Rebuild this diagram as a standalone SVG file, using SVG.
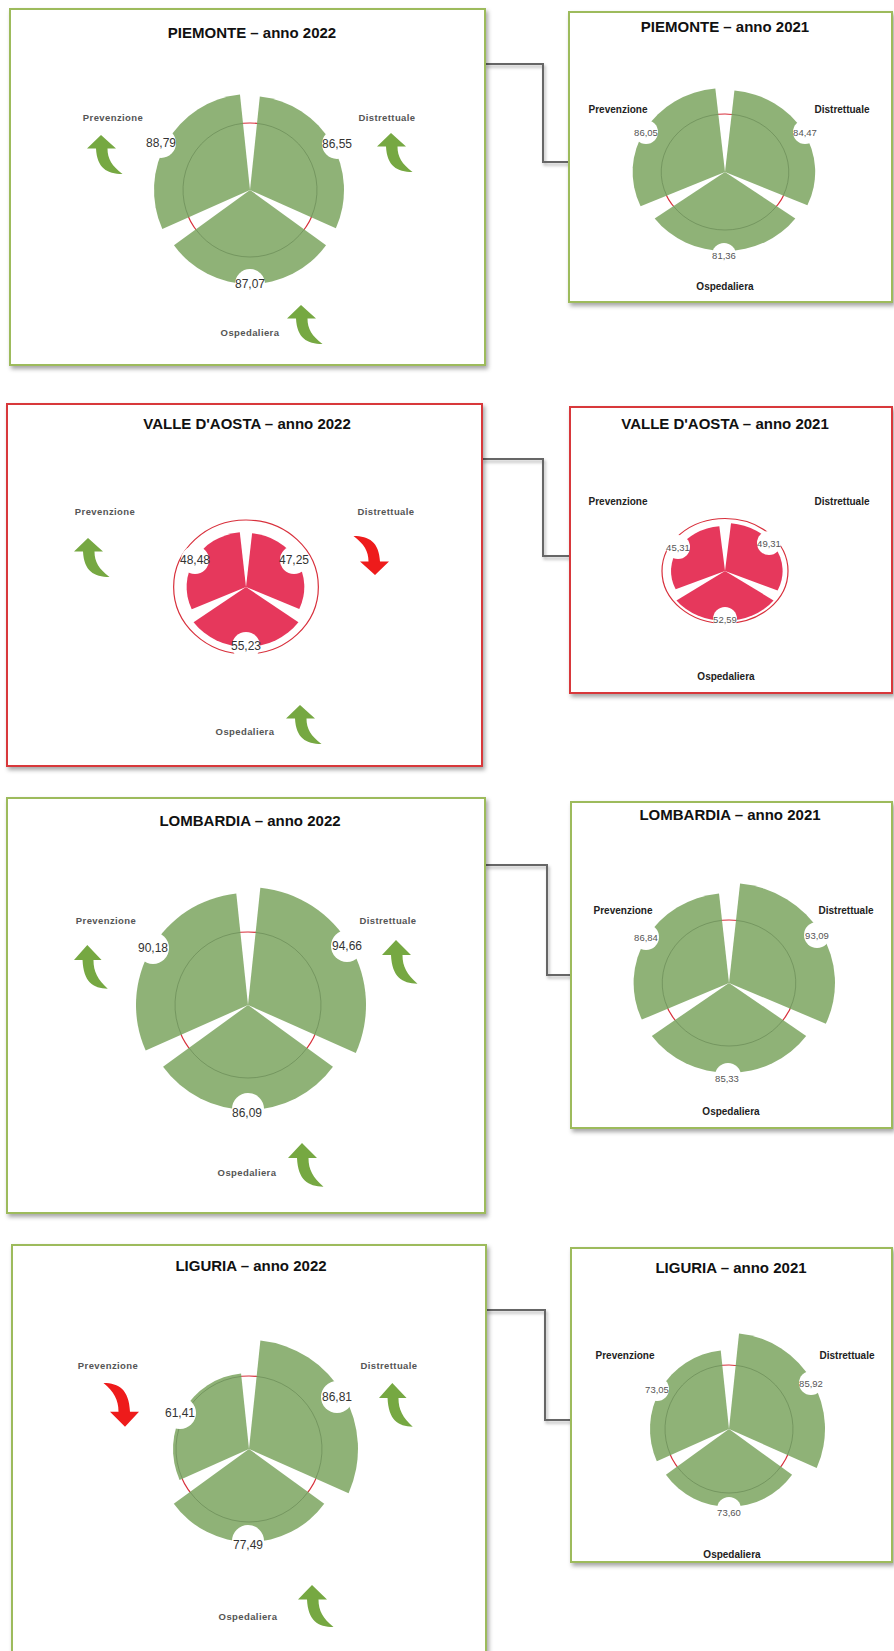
<svg xmlns="http://www.w3.org/2000/svg" xmlns:xlink="http://www.w3.org/1999/xlink" width="894" height="1651" viewBox="0 0 894 1651">
<style>
.bg{fill:#fff}
.pg{fill:#fff;stroke:#9dbb5c;stroke-width:2}
.pr{fill:#fff;stroke:#d8393b;stroke-width:2}
.title{font-family:"Liberation Sans",Arial,sans-serif;font-weight:bold;font-size:15px;fill:#111;text-anchor:middle}
.cat{font-family:"Liberation Sans",Arial,sans-serif;font-weight:bold;font-size:9.5px;fill:#555;text-anchor:middle;letter-spacing:0.4px}
.cat21{font-family:"Liberation Sans",Arial,sans-serif;font-weight:bold;font-size:10px;fill:#222;text-anchor:middle}
.val{font-family:"Liberation Sans",Arial,sans-serif;font-size:12px;fill:#333;text-anchor:middle;dominant-baseline:central}
.val21{font-family:"Liberation Sans",Arial,sans-serif;font-size:9.5px;fill:#555;text-anchor:middle;dominant-baseline:central}
.sec{fill:#8fb277}
.secr{fill:#e6385c}
.ring{fill:none;stroke:#5f7f4c;stroke-opacity:.55;stroke-width:1}
.redc{fill:none;stroke:#d8303c;stroke-width:1.2}
.bite{fill:#fff}
.conn{fill:none;stroke:#666;stroke-width:2}
.up{fill:#76a842}
.down{fill:#ee1b1b}
</style>
<defs>
<filter id="sh" x="-5%" y="-5%" width="112%" height="112%"><feDropShadow dx="2" dy="3" stdDeviation="2" flood-color="#000" flood-opacity="0.35"/></filter>
<filter id="shc" x="-10%" y="-10%" width="125%" height="125%"><feDropShadow dx="1.5" dy="2.5" stdDeviation="1.5" flood-color="#000" flood-opacity="0.3"/></filter>
<path id="sP" d="M0,0 L-0.91355,0.40674 A1,1 0 0 1 -0.10453,-0.99452 Z"/>
<path id="sD" d="M0,0 L0.10453,-0.99452 A1,1 0 0 1 0.91355,0.40674 Z"/>
<path id="sO" d="M0,0 L0.80902,0.58779 A1,1 0 0 1 -0.80902,0.58779 Z"/>
<path id="ringArcs" vector-effect="non-scaling-stroke" d="M0.10453,-0.99452 A1,1 0 0 1 0.91355,0.40674 M0.80902,0.58779 A1,1 0 0 1 -0.80902,0.58779 M-0.91355,0.40674 A1,1 0 0 1 -0.10453,-0.99452"/>
<path id="arr" d="M14,0 L29,13.5 L20.5,13.5 C20.5,24 25,31 35.5,39 C20,39 10,33 9,13.5 L0,13.5 Z"/>
</defs>
<rect class="bg" x="0" y="0" width="894" height="1651"/>

<g id="connectors">
<path class="conn" filter="url(#shc)" d="M485,64 H543 V162 H569"/>
<path class="conn" filter="url(#shc)" d="M482,459 H543 V556 H570"/>
<path class="conn" filter="url(#shc)" d="M485,865 H547 V975 H571"/>
<path class="conn" filter="url(#shc)" d="M486,1310 H545 V1420 H571"/>
</g>

<g id="piemonte-2022">
<rect class="pg" filter="url(#sh)" x="10" y="9" width="475" height="356"/>
<text class="title" x="252" y="38">PIEMONTE – anno 2022</text>
<g transform="translate(250,190)">
<circle class="redc" r="67"/>
<use xlink:href="#sP" class="sec" transform="scale(96)"/>
<use xlink:href="#sD" class="sec" transform="scale(94)"/>
<use xlink:href="#sO" class="sec" transform="scale(94)"/>
<use xlink:href="#ringArcs" class="ring" transform="scale(67)"/>
</g>
<circle class="bite" cx="161" cy="143" r="15"/>
<circle class="bite" cx="337" cy="144" r="15"/>
<circle class="bite" cx="250" cy="284" r="15"/>
<text class="val" x="161" y="143">88,79</text>
<text class="val" x="337" y="144">86,55</text>
<text class="val" x="250" y="284">87,07</text>
<text class="cat" x="113" y="121">Prevenzione</text>
<text class="cat" x="387" y="121">Distrettuale</text>
<text class="cat" x="250" y="336">Ospedaliera</text>
<use xlink:href="#arr" class="up" transform="translate(87,135)"/>
<use xlink:href="#arr" class="up" transform="translate(377,133)"/>
<use xlink:href="#arr" class="up" transform="translate(287,305)"/>
</g>

<g id="piemonte-2021">
<rect class="pg" filter="url(#sh)" x="569" y="12" width="323" height="290"/>
<text class="title" x="725" y="32">PIEMONTE – anno 2021</text>
<g transform="translate(725,172) scale(1.1,1)">
<circle class="redc" r="58" vector-effect="non-scaling-stroke"/>
<use xlink:href="#sP" class="sec" transform="scale(84)"/>
<use xlink:href="#sD" class="sec" transform="scale(82)"/>
<use xlink:href="#sO" class="sec" transform="scale(79)"/>
<use xlink:href="#ringArcs" class="ring" transform="scale(58)"/>
</g>
<circle class="bite" cx="646" cy="132" r="12"/>
<circle class="bite" cx="805" cy="132" r="12"/>
<circle class="bite" cx="724" cy="255" r="12"/>
<text class="val21" x="646" y="132">86,05</text>
<text class="val21" x="805" y="132">84,47</text>
<text class="val21" x="724" y="255">81,36</text>
<text class="cat21" x="618" y="113">Prevenzione</text>
<text class="cat21" x="842" y="113">Distrettuale</text>
<text class="cat21" x="725" y="290">Ospedaliera</text>
</g>

<g id="valle-daosta-2022">
<rect class="pr" filter="url(#sh)" x="7" y="404" width="475" height="362"/>
<text class="title" x="247" y="429">VALLE D'AOSTA – anno 2022</text>
<g transform="translate(246,587) scale(1.08,1)">
<use xlink:href="#sP" class="secr" transform="scale(55)"/>
<use xlink:href="#sD" class="secr" transform="scale(54)"/>
<use xlink:href="#sO" class="secr" transform="scale(60)"/>
<circle class="redc" r="67" vector-effect="non-scaling-stroke"/>
</g>
<circle class="bite" cx="195" cy="560" r="14"/>
<circle class="bite" cx="294" cy="560" r="14"/>
<circle class="bite" cx="246" cy="646" r="14"/>
<text class="val" x="195" y="560">48,48</text>
<text class="val" x="294" y="560">47,25</text>
<text class="val" x="246" y="646">55,23</text>
<text class="cat" x="105" y="515">Prevenzione</text>
<text class="cat" x="386" y="515">Distrettuale</text>
<text class="cat" x="245" y="735">Ospedaliera</text>
<use xlink:href="#arr" class="up" transform="translate(74,538)"/>
<use xlink:href="#arr" class="down" transform="translate(353,535) rotate(180,18,20)"/>
<use xlink:href="#arr" class="up" transform="translate(286,705)"/>
</g>

<g id="valle-daosta-2021">
<rect class="pr" filter="url(#sh)" x="570" y="407" width="322" height="286"/>
<text class="title" x="725" y="429">VALLE D'AOSTA – anno 2021</text>
<g transform="translate(725,571) scale(1.2,1)">
<use xlink:href="#sP" class="secr" transform="scale(45)"/>
<use xlink:href="#sD" class="secr" transform="scale(48)"/>
<use xlink:href="#sO" class="secr" transform="scale(50)"/>
<circle class="redc" r="52.5" vector-effect="non-scaling-stroke"/>
</g>
<circle class="bite" cx="678" cy="547" r="12"/>
<circle class="bite" cx="769" cy="543" r="12"/>
<circle class="bite" cx="725" cy="619" r="12"/>
<text class="val21" x="678" y="547">45,31</text>
<text class="val21" x="769" y="543">49,31</text>
<text class="val21" x="725" y="619">52,59</text>
<text class="cat21" x="618" y="505">Prevenzione</text>
<text class="cat21" x="842" y="505">Distrettuale</text>
<text class="cat21" x="726" y="680">Ospedaliera</text>
</g>

<g id="lombardia-2022">
<rect class="pg" filter="url(#sh)" x="7" y="798" width="478" height="415"/>
<text class="title" x="250" y="826">LOMBARDIA – anno 2022</text>
<g transform="translate(248,1005)">
<circle class="redc" r="73"/>
<use xlink:href="#sP" class="sec" transform="scale(112)"/>
<use xlink:href="#sD" class="sec" transform="scale(118)"/>
<use xlink:href="#sO" class="sec" transform="scale(105)"/>
<use xlink:href="#ringArcs" class="ring" transform="scale(73)"/>
</g>
<circle class="bite" cx="153" cy="948" r="16"/>
<circle class="bite" cx="347" cy="946" r="16"/>
<circle class="bite" cx="248" cy="1109" r="16"/>
<text class="val" x="153" y="948">90,18</text>
<text class="val" x="347" y="946">94,66</text>
<text class="val" x="247" y="1113">86,09</text>
<text class="cat" x="106" y="924">Prevenzione</text>
<text class="cat" x="388" y="924">Distrettuale</text>
<text class="cat" x="247" y="1176">Ospedaliera</text>
<use xlink:href="#arr" class="up" transform="translate(74,945) scale(0.95,1.12)"/>
<use xlink:href="#arr" class="up" transform="translate(382,940) scale(1,1.12)"/>
<use xlink:href="#arr" class="up" transform="translate(288,1143) scale(1,1.12)"/>
</g>

<g id="lombardia-2021">
<rect class="pg" filter="url(#sh)" x="571" y="802" width="321" height="326"/>
<text class="title" x="730" y="820">LOMBARDIA – anno 2021</text>
<g transform="translate(729,983) scale(1.06,1)">
<circle class="redc" r="63" vector-effect="non-scaling-stroke"/>
<use xlink:href="#sP" class="sec" transform="scale(90)"/>
<use xlink:href="#sD" class="sec" transform="scale(100)"/>
<use xlink:href="#sO" class="sec" transform="scale(90)"/>
<use xlink:href="#ringArcs" class="ring" transform="scale(63)"/>
</g>
<circle class="bite" cx="646" cy="937" r="13"/>
<circle class="bite" cx="817" cy="935" r="13"/>
<circle class="bite" cx="728" cy="1076" r="13"/>
<text class="val21" x="646" y="937">86,84</text>
<text class="val21" x="817" y="935">93,09</text>
<text class="val21" x="727" y="1078">85,33</text>
<text class="cat21" x="623" y="914">Prevenzione</text>
<text class="cat21" x="846" y="914">Distrettuale</text>
<text class="cat21" x="731" y="1115">Ospedaliera</text>
</g>

<g id="liguria-2022">
<rect class="pg" filter="url(#sh)" x="12" y="1245" width="474" height="430"/>
<text class="title" x="251" y="1271">LIGURIA – anno 2022</text>
<g transform="translate(249,1449)">
<circle class="redc" r="73"/>
<use xlink:href="#sP" class="sec" transform="scale(76)"/>
<use xlink:href="#sD" class="sec" transform="scale(109)"/>
<use xlink:href="#sO" class="sec" transform="scale(93)"/>
<use xlink:href="#ringArcs" class="ring" transform="scale(73)"/>
</g>
<circle class="bite" cx="180" cy="1413" r="16"/>
<circle class="bite" cx="337" cy="1397" r="16"/>
<circle class="bite" cx="248" cy="1541" r="16"/>
<text class="val" x="180" y="1413">61,41</text>
<text class="val" x="337" y="1397">86,81</text>
<text class="val" x="248" y="1545">77,49</text>
<text class="cat" x="108" y="1369">Prevenzione</text>
<text class="cat" x="389" y="1369">Distrettuale</text>
<text class="cat" x="248" y="1620">Ospedaliera</text>
<use xlink:href="#arr" class="down" transform="translate(103,1382) scale(1,1.12) rotate(180,18,20)"/>
<use xlink:href="#arr" class="up" transform="translate(379,1383) scale(0.95,1.12)"/>
<use xlink:href="#arr" class="up" transform="translate(298,1585) scale(1,1.08)"/>
</g>

<g id="liguria-2021">
<rect class="pg" filter="url(#sh)" x="571" y="1248" width="321" height="314"/>
<text class="title" x="731" y="1273">LIGURIA – anno 2021</text>
<g transform="translate(729,1429)">
<circle class="redc" r="64"/>
<use xlink:href="#sP" class="sec" transform="scale(79)"/>
<use xlink:href="#sD" class="sec" transform="scale(96)"/>
<use xlink:href="#sO" class="sec" transform="scale(78)"/>
<use xlink:href="#ringArcs" class="ring" transform="scale(64)"/>
</g>
<circle class="bite" cx="657" cy="1389" r="12"/>
<circle class="bite" cx="811" cy="1383" r="12"/>
<circle class="bite" cx="729" cy="1509" r="12"/>
<text class="val21" x="657" y="1389">73,05</text>
<text class="val21" x="811" y="1383">85,92</text>
<text class="val21" x="729" y="1512">73,60</text>
<text class="cat21" x="625" y="1359">Prevenzione</text>
<text class="cat21" x="847" y="1359">Distrettuale</text>
<text class="cat21" x="732" y="1558">Ospedaliera</text>
</g>
</svg>
